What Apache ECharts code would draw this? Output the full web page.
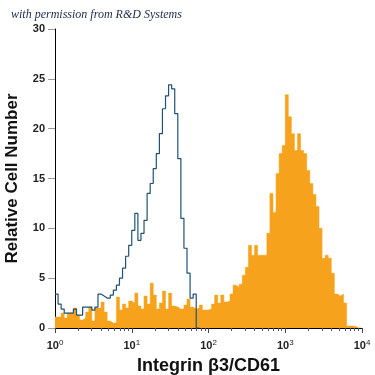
<!DOCTYPE html>
<html>
<head>
<meta charset="utf-8">
<script src="https://cdn.jsdelivr.net/npm/echarts@6/dist/echarts.min.js"></script>
<style>
html, body { margin: 0; padding: 0; background: #fff; }
#chart { width: 375px; height: 375px; }
</style>
</head>
<body>
<div id="chart"></div>
<script>
// x axis is in log10 units, 25 channels per decade
const binWidth = 0.04
const decades = [0, 1, 2, 3, 4]
const minorSteps = [2, 3, 4, 5, 6, 7, 8, 9]

// isotype control, outline
const controlCounts = [
  3.4, 2.4, 1.9, 1.5, 1.5, 1.5, 1.9, 1.3, 1.3, 2.1,
  2.1, 2.1, 1.8, 2.1, 3.4, 3.2, 3.0, 3.0, 3.3, 3.8,
  4.3, 5.0, 6.0, 7.2, 8.3, 9.8, 11.5, 8.8, 9.5, 10.8,
  13.5, 14.5, 16.0, 17.5, 19.5, 22.0, 23.3, 24.4, 24.0, 21.5,
  17.0, 11.0, 8.0, 5.5, 3.0, 3.4, 0
]

// Integrin b3 / CD61 stained, filled
const stainedCounts = [
  1.1, 1.1, 1.5, 1.0, 1.5, 1.5, 2.0, 1.3, 0.8, 1.0,
  1.6, 2.1, 0.7, 2.0, 2.0, 2.6, 1.6, 0.7, 0.5, 0.5,
  3.1, 1.8, 2.4, 2.0, 2.7, 2.5, 3.5, 2.2, 1.9, 3.2,
  2.4, 4.5, 3.3, 1.9, 2.5, 3.7, 1.9, 3.5, 2.2, 2.1,
  1.9, 1.9, 2.3, 2.9, 2.1, 1.9, 2.0, 2.3, 1.8, 1.8,
  1.9, 2.4, 3.3, 2.5, 3.3, 2.6, 2.7, 3.4, 4.3, 4.1,
  4.4, 5.3, 6.1, 8.3, 7.3, 8.3, 7.3, 7.3, 7.3, 9.5,
  13.5, 11.6, 15.5, 17.5, 18.3, 23.4, 21.2, 19.5, 17.8, 19.5,
  17.8, 17.5, 15.8, 14.5, 13.4, 12.2, 10.0, 7.0, 7.3, 7.0,
  5.5, 3.4, 3.2, 3.4, 2.5, 0.2, 0.2, 0.15, 0, 0
]

function toSteps (counts) {
  const pts = counts.map((v, i) => [i * binWidth, v])
  pts.push([counts.length * binWidth, 0])
  return pts
}

const minorTicks = []
decades.slice(0, -1).forEach(d => {
  minorSteps.forEach(k => minorTicks.push(d + Math.log10(k)))
})

const myChart = echarts.init(document.getElementById('chart'))
const option = {
  animation: false,
  backgroundColor: '#fff',
  grid: { left: 55, right: 13, top: 29, bottom: 47, containLabel: false, outerBoundsMode: 'none' },
  graphic: [{
    type: 'text',
    left: 11,
    top: 9,
    style: {
      text: 'with permission from R&D Systems',
      font: 'italic 12px "Liberation Serif"',
      fill: '#1c2b48'
    }
  }],
  xAxis: [
    {
      type: 'value',
      min: 0,
      max: 4,
      interval: 1,
      name: 'Integrin β3/CD61',
      nameLocation: 'middle',
      nameGap: 29,
      nameTextStyle: { fontFamily: 'Liberation Sans', fontWeight: 'bold', fontSize: 18, color: '#111' },
      axisLine: { lineStyle: { color: '#000', width: 1 } },
      axisTick: { length: 5, lineStyle: { color: '#444' } },
      splitLine: { show: false },
      axisLabel: {
        margin: 11,
        formatter: v => '{b|10}{s|' + v + '}',
        rich: {
          b: { fontFamily: 'Liberation Sans', fontSize: 11, color: '#222', fontWeight: 'bold' },
          s: { fontFamily: 'Liberation Sans', fontSize: 8, color: '#222', padding: [0, 0, 6, 0] }
        }
      }
    },
    {
      type: 'value',
      min: 0,
      max: 4,
      position: 'bottom',
      axisLine: { show: false },
      axisLabel: { show: false },
      splitLine: { show: false },
      axisTick: { customValues: minorTicks, length: 3, lineStyle: { color: '#555' } }
    }
  ],
  yAxis: {
    type: 'value',
    min: 0,
    max: 30,
    interval: 5,
    name: 'Relative Cell Number',
    nameLocation: 'middle',
    nameGap: 34,
    nameTextStyle: { fontFamily: 'Liberation Sans', fontWeight: 'bold', fontSize: 17, color: '#111' },
    axisLine: { show: true, lineStyle: { color: '#000', width: 1 } },
    axisTick: { show: true, length: 7, lineStyle: { color: '#999' } },
    splitLine: { show: false },
    axisLabel: { margin: 10, fontFamily: 'Liberation Sans', fontWeight: 'bold', fontSize: 11, color: '#222' }
  },
  series: [
    {
      type: 'line',
      step: 'end',
      data: toSteps(stainedCounts),
      symbol: 'none',
      lineStyle: { width: 0.5, color: '#f6a21c' },
      areaStyle: { color: '#f6a21c', opacity: 1 },
      z: 2
    },
    {
      type: 'line',
      step: 'end',
      data: toSteps(controlCounts),
      symbol: 'none',
      lineStyle: { width: 1.2, color: '#1f5275' },
      z: 3
    }
  ]
}
myChart.setOption(option)
</script>
</body>
</html>
